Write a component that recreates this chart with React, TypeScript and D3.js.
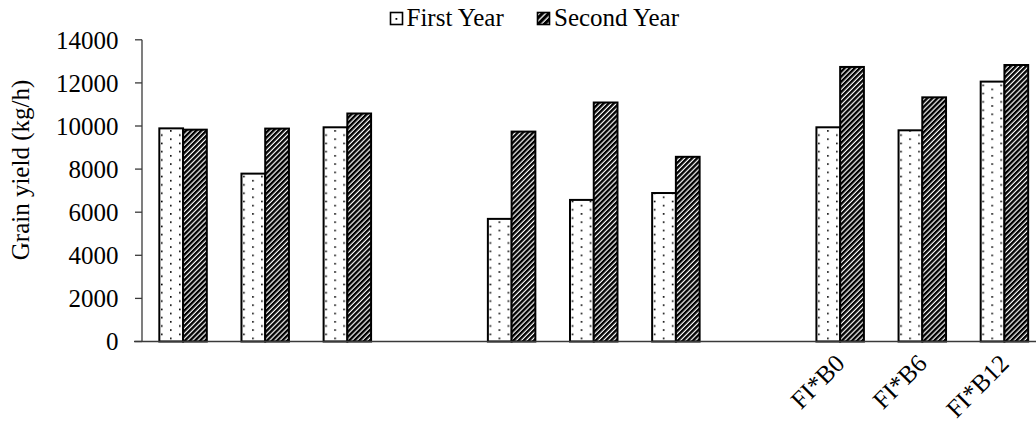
import React from "react";
import * as d3 from "d3";

const categories = ["", "", "", "", "", "", "", "", "FI*B0", "FI*B6", "FI*B12"];
const firstYear = [9890, 7790, 9940, null, 5690, 6570, 6890, null, 9940, 9800, 12060];
const secondYear = [9830, 9880, 10580, null, 9740, 11090, 8570, null, 12740, 11330, 12830];
const seriesNames = ["First Year", "Second Year"];
const yTicks = [0, 2000, 4000, 6000, 8000, 10000, 12000, 14000];

const W = 1036;
const H = 423;
const FS = 25;
const TS: React.CSSProperties = { fontFamily: '"Liberation Serif"' };

export default function App() {
  const idx = categories.map((_, i) => String(i));
  const x = d3.scaleBand<string>().domain(idx).range([142, 1045.5]).paddingInner(0).paddingOuter(0);
  const step = x.step();
  const gw = step * 0.578;
  const x1 = d3
    .scaleBand<string>()
    .domain(seriesNames)
    .range([(step - gw) / 2, (step + gw) / 2])
    .padding(0);
  const y = d3.scaleLinear().domain([0, 14000]).range([341.5, 39.8]);
  const fills = ["url(#dots)", "url(#stripes)"];
  const data = [firstYear, secondYear];

  return (
    <svg width={W} height={H} style={{ position: "absolute", left: 0, top: 0, background: "#fff" }}>
      <defs>
        <pattern id="dots" patternUnits="userSpaceOnUse" width={18} height={8.3}>
          <rect width={18} height={8.3} fill="#fff" />
          <rect x={1} y={1.5} width={1.6} height={1.6} fill="#000" />
          <rect x={10} y={5.6} width={1.6} height={1.6} fill="#000" />
        </pattern>
        <pattern
          id="stripes"
          patternUnits="userSpaceOnUse"
          width={3.6}
          height={10}
          patternTransform="rotate(45)"
        >
          <rect width={3.6} height={10} fill="#fff" />
          <rect width={2.4} height={10} fill="#000" />
        </pattern>
        <pattern
          id="stripesL"
          patternUnits="userSpaceOnUse"
          width={4.5}
          height={10}
          patternTransform="rotate(45)"
        >
          <rect width={4.5} height={10} fill="#fff" />
          <rect width={3.2} height={10} fill="#000" />
        </pattern>
      </defs>

      {/* legend */}
      <g>
        <rect x={390.5} y={12.5} width={12} height={12} fill="#fff" stroke="#000" strokeWidth={1.6} />
        <rect x={395.5} y={18} width={1.8} height={1.8} fill="#000" />
        <text x={406.5} y={26} fontSize={FS} fill="#000" style={TS}>
          {seriesNames[0]}
        </text>
        <rect x={537.5} y={12.5} width={12} height={12} fill="url(#stripesL)" stroke="#000" strokeWidth={1.6} />
        <text x={554} y={26} fontSize={FS} fill="#000" style={TS}>
          {seriesNames[1]}
        </text>
      </g>

      {/* y axis label */}
      <text
        transform={`translate(29,170) rotate(-90)`}
        textAnchor="middle"
        fontSize={FS}
        fill="#000"
        style={TS}
      >
        Grain yield (kg/h)
      </text>

      {/* bars */}
      {idx.map((k, i) => (
        <g key={k} transform={`translate(${x(k)},0)`}>
          {seriesNames.map((s, j) => {
            const v = data[j][i];
            if (v == null) return null;
            return (
              <rect
                key={s}
                x={x1(s)}
                y={y(v)}
                width={x1.bandwidth()}
                height={y(0) - y(v)}
                fill={fills[j]}
                stroke="#000"
                strokeWidth={2}
              />
            );
          })}
        </g>
      ))}

      {/* y axis */}
      <line x1={142} x2={142} y1={y(14000)} y2={y(0)} stroke="#3a3a3a" strokeWidth={1.3} />
      {yTicks.map((t) => (
        <g key={t}>
          <line x1={135} x2={142} y1={y(t)} y2={y(t)} stroke="#3a3a3a" strokeWidth={1.3} />
          <text x={118.5} y={y(t)} dy="0.35em" textAnchor="end" fontSize={FS} fill="#000" style={TS}>
            {t}
          </text>
        </g>
      ))}

      {/* x axis */}
      <line x1={134} x2={W + 20} y1={y(0)} y2={y(0)} stroke="#3a3a3a" strokeWidth={1.3} />
      {idx.map((k, i) =>
        categories[i] ? (
          <text
            key={k}
            transform={`translate(${(x(k) as number) + step / 2 + 6},365) rotate(-45)`}
            textAnchor="end"
            fontSize={FS}
            fill="#000"
            style={TS}
          >
            {categories[i]}
          </text>
        ) : null
      )}
    </svg>
  );
}
